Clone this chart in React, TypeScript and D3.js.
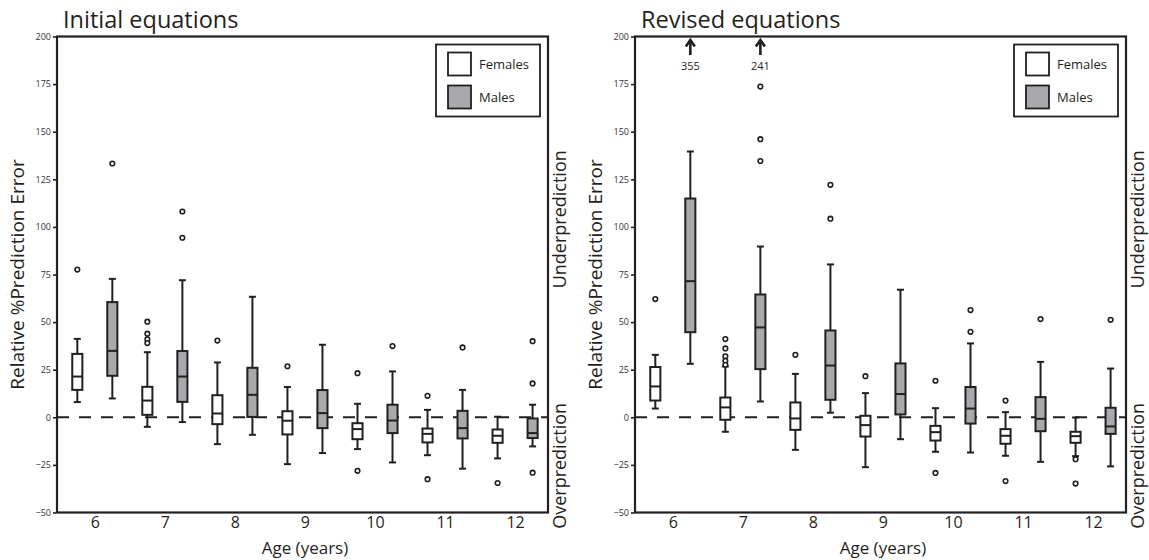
import * as d3 from "d3";
import { useEffect, useRef } from "react";

const ages = [6, 7, 8, 9, 10, 11, 12];
const yTicks = [-50, -25, 0, 25, 50, 75, 100, 125, 150, 175, 200];

// each row: [lower whisker, q1, median, q3, upper whisker]
const initialFemales = [
  [8.0, 14.4, 21.4, 33.3, 41.2],
  [-5.0, 1.3, 8.8, 16.0, 34.2],
  [-14.1, -3.6, 2.0, 11.6, 28.8],
  [-24.6, -9.0, -1.8, 3.2, 15.9],
  [-16.7, -11.5, -6.2, -3.1, 7.1],
  [-19.9, -13.2, -8.7, -5.9, 3.9],
  [-21.6, -13.4, -9.7, -6.4, 0.3],
];
const initialFemaleOutliers = [[77.6], [50.2, 43.9, 41, 39], [40.3], [26.8], [23.2, -28.1], [11.3, -32.5], [-34.5]];

const initialMales = [
  [9.9, 21.8, 34.9, 60.5, 72.7],
  [-2.5, 8.1, 21.4, 34.8, 72.0],
  [-9.2, 0.2, 11.8, 26.0, 63.3],
  [-18.8, -5.7, 2.2, 14.3, 38.1],
  [-23.7, -8.3, -1.7, 6.6, 24.1],
  [-27.0, -11.1, -5.7, 3.4, 14.4],
  [-15.3, -10.9, -8.3, -0.6, 6.6],
];
const initialMaleOutliers = [[133.3], [108.1, 94.3], [], [], [37.4], [36.7], [40.0, 17.8, -29.1]];

const revisedFemales = [
  [4.6, 8.8, 16.2, 26.4, 32.8],
  [-7.6, -1.3, 5.2, 10.4, 26.7],
  [-17.1, -6.6, -0.6, 7.8, 22.8],
  [-26.2, -10.1, -4.1, 0.8, 12.7],
  [-18.1, -12.2, -7.8, -4.5, 4.8],
  [-20.2, -13.9, -9.7, -6.2, 2.7],
  [-20.4, -13.4, -9.9, -7.6, -0.1],
];
const revisedFemaleOutliers = [[62.1], [41.1, 36.2, 32, 29.7, 27.6], [32.8], [21.6], [19.2, -29.2], [8.8, -33.5], [-22, -34.8]];

const revisedMales = [
  [28.1, 44.7, 71.5, 114.9, 139.6],
  [8.3, 25.3, 47.2, 64.5, 89.7],
  [2.4, 9.2, 27.2, 45.6, 80.3],
  [-11.5, 1.5, 12.2, 28.3, 67],
  [-18.5, -3.3, 4.6, 15.9, 38.8],
  [-23.4, -7.3, -0.8, 10.6, 29.1],
  [-25.8, -8.7, -4.8, 5.0, 25.6],
];
const revisedMaleOutliers = [[], [134.6, 146.1, 173.7], [122.1, 104.3], [], [56.3, 44.9], [51.6], [51.2]];

// males whose max is off the top of the scale: [age, value]
const revisedOffscale = [[6, 355], [7, 241]];

const INK = "#231f20";
const MALE_FILL = "#a7a9ac";
const FONT = "'Open Sans', 'Noto Sans', sans-serif";

function App() {
  const ref = useRef(null);

  useEffect(() => {
    const svg = d3.select(ref.current);
    svg.selectAll("*").remove();

    const top = 36.5,
      bottom = 512.5;
    const y = d3.scaleLinear().domain([-50, 200]).range([bottom, top]);

    const panels = [
      { title: "Initial equations", x0: 57, x1: 548, f: initialFemales, fo: initialFemaleOutliers, m: initialMales, mo: initialMaleOutliers, off: [] },
      { title: "Revised equations", x0: 635, x1: 1126, f: revisedFemales, fo: revisedFemaleOutliers, m: revisedMales, mo: revisedMaleOutliers, off: revisedOffscale },
    ];

    panels.forEach((p) => {
      const x = d3.scaleLinear().domain([5.46, 12.47]).range([p.x0, p.x1]);
      const g = svg.append("g");

      // zero reference line
      g.append("line")
        .attr("x1", p.x0).attr("x2", p.x1)
        .attr("y1", y(0)).attr("y2", y(0))
        .attr("stroke", INK).attr("stroke-width", 2)
        .attr("stroke-dasharray", "12,10");

      const drawBoxes = (stats, outliers, shift, fill) => {
        const half = (x(6.13) - x(6)) / 2 + 0.5;
        stats.forEach((s, i) => {
          const cx = x(ages[i] + shift);
          const [lo, q1, med, q3, hi] = s;
          const bg = g.append("g");
          bg.append("line").attr("x1", cx).attr("x2", cx).attr("y1", y(hi)).attr("y2", y(q3))
            .attr("stroke", INK).attr("stroke-width", 2);
          bg.append("line").attr("x1", cx).attr("x2", cx).attr("y1", y(q1)).attr("y2", y(lo))
            .attr("stroke", INK).attr("stroke-width", 2);
          [lo, hi].forEach((v) => {
            bg.append("line").attr("x1", cx - 3.5).attr("x2", cx + 3.5).attr("y1", y(v)).attr("y2", y(v))
              .attr("stroke", INK).attr("stroke-width", 2);
          });
          bg.append("rect")
            .attr("x", cx - half).attr("width", half * 2)
            .attr("y", y(q3)).attr("height", y(q1) - y(q3))
            .attr("fill", fill).attr("stroke", INK).attr("stroke-width", 2);
          bg.append("line").attr("x1", cx - half).attr("x2", cx + half).attr("y1", y(med)).attr("y2", y(med))
            .attr("stroke", INK).attr("stroke-width", 2);
          bg.selectAll("circle")
            .data(outliers[i])
            .join("circle")
            .attr("cx", cx).attr("cy", (d) => y(d)).attr("r", 2.3)
            .attr("fill", "white").attr("stroke", INK).attr("stroke-width", 1.6);
        });
      };
      drawBoxes(p.f, p.fo, -0.25, "white");
      drawBoxes(p.m, p.mo, 0.25, MALE_FILL);

      // off-scale arrows
      p.off.forEach(([age, v]) => {
        const cx = x(age + 0.25);
        g.append("line").attr("x1", cx).attr("x2", cx).attr("y1", 55).attr("y2", 42)
          .attr("stroke", INK).attr("stroke-width", 2.6);
        g.append("path")
          .attr("d", `M${cx - 4.5},${46.5} L${cx},${40} L${cx + 4.5},${46.5}`)
          .attr("fill", "none").attr("stroke", INK).attr("stroke-width", 2.6);
        g.append("text").attr("x", cx).attr("y", 70).attr("text-anchor", "middle")
          .attr("font-size", 11).attr("fill", INK).style("font-family", FONT).text(v);
      });

      // frame
      g.append("rect")
        .attr("x", p.x0).attr("y", top).attr("width", p.x1 - p.x0).attr("height", bottom - top)
        .attr("fill", "none").attr("stroke", INK).attr("stroke-width", 2.2);

      // y axis
      const yAxis = g.append("g").attr("transform", `translate(${p.x0 - 1},0)`)
        .call(d3.axisLeft(y).tickValues(yTicks).tickSize(3).tickPadding(2));
      yAxis.select(".domain").remove();
      yAxis.selectAll("line").attr("stroke", INK).attr("stroke-width", 1.6);
      yAxis.selectAll("text").attr("fill", "#333").attr("font-size", 9).style("font-family", FONT);

      // x axis labels
      const xAxis = g.append("g").attr("transform", `translate(0,${bottom})`)
        .call(d3.axisBottom(x).tickValues(ages).tickFormat(d3.format("d")).tickSize(0).tickPadding(4));
      xAxis.select(".domain").remove();
      xAxis.selectAll("text").attr("fill", INK).attr("font-size", 16).style("font-family", FONT);

      g.append("text").attr("x", (x(6) + x(12)) / 2).attr("y", 554).attr("text-anchor", "middle")
        .attr("font-size", 17).attr("fill", INK).style("font-family", FONT).text("Age (years)");

      g.append("text").attr("x", p.x0 + 6).attr("y", 28)
        .attr("font-size", 23.5).attr("fill", INK).style("font-family", FONT).text(p.title);

      g.append("text")
        .attr("transform", `translate(${p.x0 - 33},${(top + bottom) / 2}) rotate(-90)`)
        .attr("text-anchor", "middle").attr("font-size", 19).attr("fill", INK)
        .style("font-family", FONT).text("Relative %Prediction Error");

      g.append("text")
        .attr("transform", `translate(${p.x1 + 18},${y(104)}) rotate(-90)`)
        .attr("text-anchor", "middle").attr("font-size", 18).attr("fill", INK)
        .style("font-family", FONT).text("Underprediction");
      g.append("text")
        .attr("transform", `translate(${p.x1 + 18},${y(-25.5)}) rotate(-90)`)
        .attr("text-anchor", "middle").attr("font-size", 18).attr("fill", INK)
        .style("font-family", FONT).text("Overprediction");

      // legend
      const lx = p.x1 - 112,
        ly = top + 8;
      const lg = g.append("g");
      lg.append("rect").attr("x", lx).attr("y", ly).attr("width", 104).attr("height", 72)
        .attr("fill", "white").attr("stroke", INK).attr("stroke-width", 1.8);
      [["Females", "white"], ["Males", MALE_FILL]].forEach(([label, fill], i) => {
        lg.append("rect").attr("x", lx + 12).attr("y", ly + 8 + i * 33).attr("width", 23).attr("height", 23)
          .attr("fill", fill).attr("stroke", INK).attr("stroke-width", 1.8);
        lg.append("text").attr("x", lx + 43).attr("y", ly + 24 + i * 33)
          .attr("font-size", 13).attr("fill", INK).style("font-family", FONT).text(label);
      });
    });

    return () => {
      svg.selectAll("*").remove();
    };
  }, []);

  return (
    <svg ref={ref} width={1149} height={560} style={{ position: "absolute", left: 0, top: 0, background: "white" }} />
  );
}

export default App;
